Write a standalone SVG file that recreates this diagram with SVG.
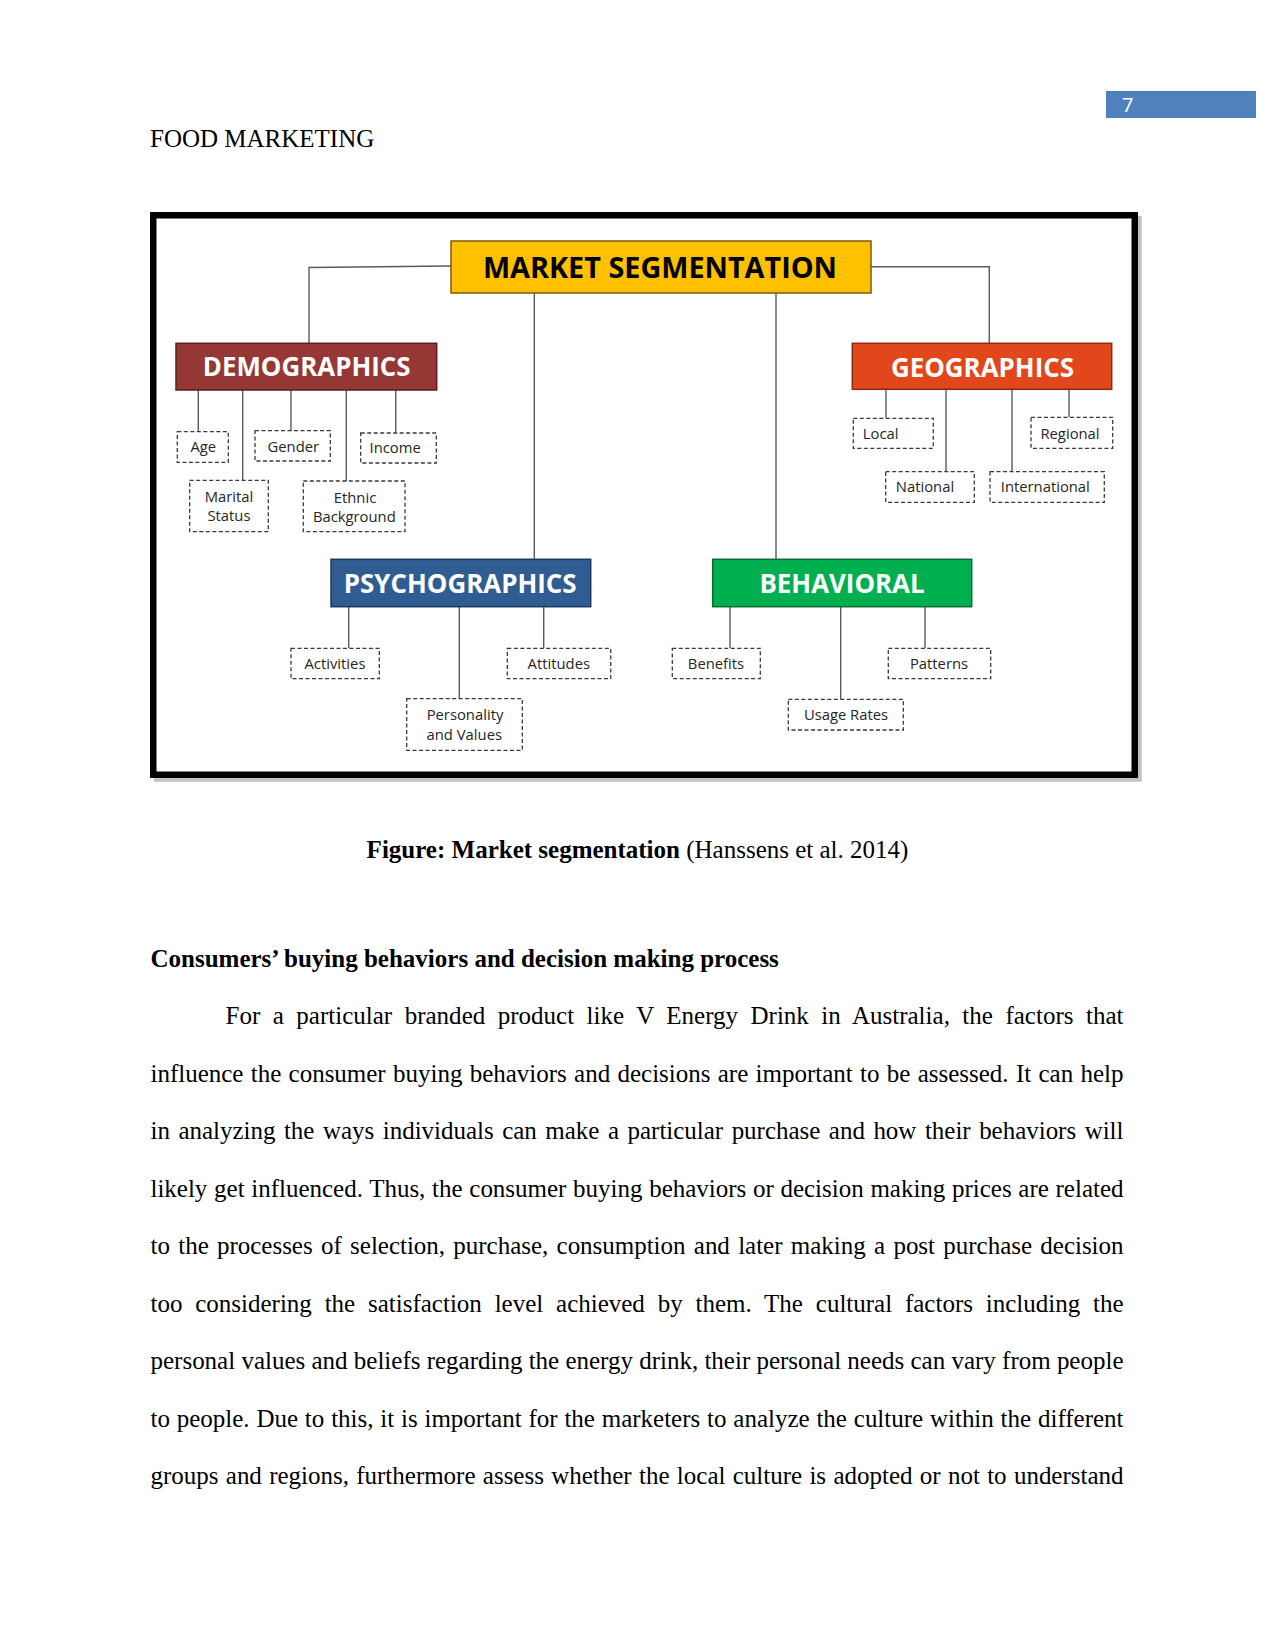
<svg xmlns="http://www.w3.org/2000/svg" width="1275" height="1651" viewBox="0 0 1275 1651">
<style>
.page{font-family:"Liberation Serif","Times New Roman",serif;font-size:25px;fill:#000}
.b{font-weight:bold}
.hdr{font-family:"Open Sans","Noto Sans",sans-serif;font-weight:bold;font-size:25.9px;fill:#fff;text-anchor:middle}
.lbl{font-family:"Open Sans","Noto Sans",sans-serif;font-size:14.8px;fill:#262626;text-anchor:middle}
.dash{fill:#fff;stroke:#3a3a3a;stroke-width:1.3;stroke-dasharray:4 2.5}
.conn{fill:none;stroke:#5a5a5a;stroke-width:1.4}
</style>
<rect width="1275" height="1651" fill="#fff"/>

<!-- page header -->
<g id="page-number">
<rect x="1106" y="91" width="150" height="27" fill="#4F81BD"/>
<text x="1122" y="111.5" font-family="Open Sans, Noto Sans, sans-serif" font-size="20" fill="#fff">7</text>
</g>
<text class="page" x="150" y="147">FOOD MARKETING</text>

<!-- figure frame -->
<g id="frame">
<rect x="157" y="219" width="981.5" height="559.5" fill="none" stroke="#9a9a9a" stroke-width="6.5" opacity="0.6"/>
<rect x="153.25" y="215.25" width="981.5" height="559.5" fill="#fff" stroke="#000" stroke-width="6.5"/>
</g>

<!-- connectors -->
<g id="connectors" class="conn">
<path d="M451 266 L309 267.5 L309 343"/>
<path d="M871 266.7 L989.3 266.7 L989.3 343"/>
<path d="M534.3 293 L534.3 559"/>
<path d="M776 293 L776 559"/>
<path d="M198.3 390 V431.7"/>
<path d="M242.7 390 V480.3"/>
<path d="M291 390 V430.7"/>
<path d="M346.3 390 V481"/>
<path d="M395.7 390 V433"/>
<path d="M886 389.3 V418.3"/>
<path d="M946 389.3 V471.7"/>
<path d="M1012 389.3 V471.7"/>
<path d="M1069 389.3 V417.3"/>
<path d="M348.7 606.7 V648.3"/>
<path d="M459.3 607 V698.7"/>
<path d="M543.7 607 V648.3"/>
<path d="M730 606.7 V648.3"/>
<path d="M840.7 607 V699.3"/>
<path d="M925 607 V648.3"/>
</g>

<!-- header nodes -->
<g id="market-segmentation">
<rect x="451" y="241" width="420" height="52" fill="#FFC000" stroke="#7a5c00" stroke-width="1.5"/>
<text x="660" y="278" font-family="Open Sans, Noto Sans, sans-serif" font-weight="bold" font-size="28.8" fill="#000" text-anchor="middle">MARKET SEGMENTATION</text>
</g>
<g id="demographics">
<rect x="176" y="343.3" width="260.7" height="46.7" fill="#953735" stroke="#5e1c1b" stroke-width="1.5"/>
<text class="hdr" x="306.7" y="375.7">DEMOGRAPHICS</text>
</g>
<g id="geographics">
<rect x="852.3" y="343.3" width="259.4" height="46" fill="#E2461B" stroke="#8e2a0e" stroke-width="1.5"/>
<text class="hdr" x="982.5" y="376.7">GEOGRAPHICS</text>
</g>
<g id="psychographics">
<rect x="331" y="559.3" width="259.7" height="47.4" fill="#2F5D92" stroke="#1c3a5e" stroke-width="1.5"/>
<text class="hdr" x="460.2" y="593.3">PSYCHOGRAPHICS</text>
</g>
<g id="behavioral">
<rect x="712.7" y="559.3" width="259" height="47.4" fill="#00B050" stroke="#0c6a34" stroke-width="1.5"/>
<text class="hdr" x="842" y="593.3">BEHAVIORAL</text>
</g>

<!-- demographics leaves -->
<g id="age"><rect class="dash" x="177.3" y="431.7" width="51" height="30.6"/><text class="lbl" x="203.3" y="451.5">Age</text></g>
<g id="gender"><rect class="dash" x="255" y="430.7" width="75.3" height="30.3"/><text class="lbl" x="293.3" y="451.5">Gender</text></g>
<g id="income"><rect class="dash" x="360.7" y="433" width="75.6" height="30"/><text class="lbl" x="395.2" y="453.3">Income</text></g>
<g id="marital-status"><rect class="dash" x="189.7" y="480.3" width="78.6" height="51.4"/><text class="lbl" x="229" y="501.7">Marital</text><text class="lbl" x="229" y="521">Status</text></g>
<g id="ethnic-background"><rect class="dash" x="303.3" y="481" width="101.7" height="50.7"/><text class="lbl" x="355" y="502.5">Ethnic</text><text class="lbl" x="354.3" y="522.3">Background</text></g>

<!-- geographics leaves -->
<g id="local"><rect class="dash" x="853.3" y="418.3" width="80" height="30"/><text class="lbl" x="880.7" y="439.3">Local</text></g>
<g id="regional"><rect class="dash" x="1031" y="417.3" width="81.7" height="31"/><text class="lbl" x="1070" y="439.3">Regional</text></g>
<g id="national"><rect class="dash" x="885.7" y="471.7" width="88.6" height="30.6"/><text class="lbl" x="925" y="492.3">National</text></g>
<g id="international"><rect class="dash" x="990" y="471.7" width="114.3" height="30.6"/><text class="lbl" x="1045.3" y="492.3">International</text></g>

<!-- psychographics leaves -->
<g id="activities"><rect class="dash" x="291" y="648.3" width="88.3" height="30.4"/><text class="lbl" x="335" y="669">Activities</text></g>
<g id="attitudes"><rect class="dash" x="507.3" y="648.3" width="103.4" height="30.4"/><text class="lbl" x="558.8" y="669">Attitudes</text></g>
<g id="personality-values"><rect class="dash" x="406.7" y="698.7" width="115.6" height="51.6"/><text class="lbl" x="465" y="720">Personality</text><text class="lbl" x="464.3" y="740">and Values</text></g>

<!-- behavioral leaves -->
<g id="benefits"><rect class="dash" x="672.3" y="648.3" width="88" height="30.4"/><text class="lbl" x="716" y="669">Benefits</text></g>
<g id="patterns"><rect class="dash" x="888.3" y="648.3" width="102.4" height="30.4"/><text class="lbl" x="939" y="669">Patterns</text></g>
<g id="usage-rates"><rect class="dash" x="788.3" y="699.3" width="115" height="30.7"/><text class="lbl" x="846" y="720">Usage Rates</text></g>

<!-- caption and body text -->
<text class="page" x="637.5" y="858" text-anchor="middle"><tspan class="b">Figure: Market segmentation</tspan> (Hanssens et al. 2014)</text>
<text class="page b" x="150.5" y="966.5">Consumers’ buying behaviors and decision making process</text>

<text class="page" x="225.5" y="1024" word-spacing="6.2" textLength="898" lengthAdjust="spacing">For a particular branded product like V Energy Drink in Australia, the factors that</text>
<text class="page" x="150.5" y="1081.5" word-spacing="1.1" textLength="973" lengthAdjust="spacing">influence the consumer buying behaviors and decisions are important to be assessed. It can help</text>
<text class="page" x="150.5" y="1139" word-spacing="2.3" textLength="973" lengthAdjust="spacing">in analyzing the ways individuals can make a particular purchase and how their behaviors will</text>
<text class="page" x="150.5" y="1196.5" word-spacing="0.5" textLength="973" lengthAdjust="spacing">likely get influenced. Thus, the consumer buying behaviors or decision making prices are related</text>
<text class="page" x="150.5" y="1254" word-spacing="2.1" textLength="973" lengthAdjust="spacing">to the processes of selection, purchase, consumption and later making a post purchase decision</text>
<text class="page" x="150.5" y="1311.5" word-spacing="6.6" textLength="973" lengthAdjust="spacing">too considering the satisfaction level achieved by them. The cultural factors including the</text>
<text class="page" x="150.5" y="1369" textLength="973" lengthAdjust="spacing">personal values and beliefs regarding the energy drink, their personal needs can vary from people</text>
<text class="page" x="150.5" y="1426.5" word-spacing="0.6" textLength="973" lengthAdjust="spacing">to people. Due to this, it is important for the marketers to analyze the culture within the different</text>
<text class="page" x="150.5" y="1484" word-spacing="1.1" textLength="973" lengthAdjust="spacing">groups and regions, furthermore assess whether the local culture is adopted or not to understand</text>
</svg>
